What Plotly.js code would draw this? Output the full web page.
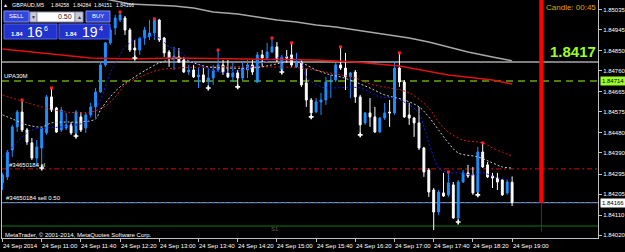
<!DOCTYPE html>
<html><head><meta charset="utf-8">
<script src="https://cdn.plot.ly/plotly-3.0.1.min.js"></script>
<style>html,body{margin:0;padding:0;background:#000;overflow:hidden}#chart{width:625px;height:252px}</style>
</head><body><div id="chart"></div>
<script>
const symbolName = "GBPAUD,M5";
const open = [1.84255,1.84282,1.84403,1.84507,1.84574,1.84493,1.84435,1.84367,1.84412,1.84480,
1.84642,1.84592,1.84493,1.84502,1.84516,1.84480,1.84552,1.84502,1.84561,1.84597,
1.84664,1.84786,1.84885,1.84952,1.84988,1.84997,1.84943,1.84862,1.84853,1.84907,
1.84912,1.84930,1.84988,1.84907,1.84844,1.84817,1.84822,1.84808,1.84754,1.84763,
1.84732,1.84741,1.84718,1.84727,1.84763,1.84786,1.84750,1.84732,1.84750,1.84727,
1.84763,1.84786,1.84709,1.84831,1.84817,1.84844,1.84867,1.84763,1.84822,1.84831,
1.84777,1.84799,1.84705,1.84628,1.84574,1.84619,1.84628,1.84709,1.84718,1.84786,
1.84772,1.84732,1.84754,1.84642,1.84525,1.84570,1.84552,1.84484,1.84547,1.84574,
1.84570,1.84772,1.84709,1.84561,1.84547,1.84525,1.84412,1.84313,1.84223,1.84124,
1.84210,1.84201,1.84246,1.84097,1.84259,1.84300,1.84291,1.84214,1.84394,1.84336,
1.84286,1.84277,1.84268,1.84210,1.84258];
const high = [1.84300,1.84403,1.84516,1.84583,1.84628,1.84502,1.84457,1.84448,1.84507,1.84651,
1.84682,1.84597,1.84597,1.84570,1.84529,1.84583,1.84574,1.84570,1.84615,1.84682,
1.84795,1.84889,1.84952,1.85011,1.85024,1.85006,1.84952,1.84898,1.84912,1.84957,
1.84988,1.84993,1.84993,1.84912,1.84853,1.84867,1.84862,1.84822,1.84786,1.84786,
1.84772,1.84772,1.84772,1.84786,1.84853,1.84808,1.84808,1.84799,1.84763,1.84799,
1.84808,1.84808,1.84844,1.84853,1.84885,1.84907,1.84889,1.84831,1.84853,1.84885,
1.84840,1.84808,1.84772,1.84637,1.84637,1.84660,1.84732,1.84741,1.84795,1.84867,
1.84840,1.84754,1.84763,1.84651,1.84574,1.84637,1.84597,1.84552,1.84615,1.84628,
1.84799,1.84840,1.84718,1.84615,1.84552,1.84597,1.84417,1.84322,1.84232,1.84223,
1.84300,1.84304,1.84259,1.84268,1.84313,1.84336,1.84327,1.84417,1.84435,1.84349,
1.84300,1.84300,1.84273,1.84268,1.84284];
const low = [1.84223,1.84268,1.84372,1.84484,1.84484,1.84426,1.84358,1.84327,1.84322,1.84471,
1.84574,1.84480,1.84484,1.84493,1.84471,1.84466,1.84484,1.84480,1.84547,1.84547,
1.84660,1.84777,1.84876,1.84921,1.84979,1.84921,1.84844,1.84817,1.84831,1.84876,
1.84898,1.84898,1.84889,1.84822,1.84777,1.84763,1.84795,1.84750,1.84741,1.84727,
1.84682,1.84705,1.84682,1.84696,1.84754,1.84741,1.84727,1.84709,1.84687,1.84718,
1.84727,1.84741,1.84705,1.84777,1.84808,1.84840,1.84799,1.84754,1.84795,1.84777,
1.84772,1.84687,1.84597,1.84552,1.84570,1.84561,1.84606,1.84637,1.84709,1.84763,
1.84673,1.84637,1.84615,1.84471,1.84516,1.84507,1.84480,1.84480,1.84538,1.84507,
1.84561,1.84687,1.84547,1.84516,1.84462,1.84403,1.84282,1.84192,1.84043,1.84111,
1.84192,1.84192,1.84093,1.84079,1.84255,1.84277,1.84201,1.84201,1.84322,1.84277,
1.84232,1.84223,1.84196,1.84201,1.84151];
const close = [1.84291,1.84394,1.84507,1.84574,1.84493,1.84439,1.84367,1.84417,1.84502,1.84642,
1.84583,1.84484,1.84583,1.84516,1.84480,1.84574,1.84493,1.84561,1.84597,1.84664,
1.84786,1.84885,1.84943,1.84997,1.85011,1.84943,1.84853,1.84853,1.84907,1.84943,
1.84930,1.84988,1.84898,1.84840,1.84817,1.84826,1.84799,1.84754,1.84763,1.84732,
1.84741,1.84709,1.84727,1.84763,1.84786,1.84754,1.84732,1.84750,1.84727,1.84772,
1.84786,1.84754,1.84831,1.84817,1.84844,1.84867,1.84808,1.84822,1.84817,1.84786,
1.84795,1.84696,1.84628,1.84570,1.84619,1.84628,1.84709,1.84718,1.84786,1.84772,
1.84732,1.84750,1.84642,1.84516,1.84570,1.84552,1.84484,1.84547,1.84570,1.84570,
1.84772,1.84709,1.84552,1.84547,1.84525,1.84412,1.84304,1.84214,1.84124,1.84214,
1.84196,1.84255,1.84097,1.84259,1.84300,1.84286,1.84210,1.84394,1.84327,1.84282,
1.84277,1.84259,1.84201,1.84259,1.84166];

const timeTickIdx = [0,8,16,24,32,40,48,56,64,72,80,88,96,104];
const timeTickText = ["24 Sep 2014","24 Sep 11:00","24 Sep 11:40","24 Sep 12:20","24 Sep 13:00","24 Sep 13:40","24 Sep 14:20","24 Sep 15:00","24 Sep 15:40","24 Sep 16:20","24 Sep 17:00","24 Sep 17:40","24 Sep 18:20","24 Sep 19:00"];
const priceTicks = [1.85035,1.84945,1.84850,1.84760,1.84665,1.84575,1.84480,1.84390,1.84295,1.84205,1.84110,1.84020];

const upFractalIdx = [4,10,24,31,44,55,59,69,81,91,98];
const downFractalIdx = [8,15,27,42,48,57,63,73,93,97];

const maFastIdx = [0,2,4,6,9,12,15,17,18,20,22,24,25,27,29,32,34,36,38,41,44,46,49,52,56,58,61,62,65,67,73,77,80,83,85,86,87,88,89,91,93,96,98,101,104];
const maFast = [1.84372,1.84417,1.84462,1.84493,1.84502,1.84507,1.84516,1.84529,1.84552,1.84628,1.84750,1.84831,1.84867,1.84898,1.84912,1.84907,1.84867,1.84853,1.84808,1.84777,1.84754,1.84754,1.84763,1.84786,1.84817,1.84822,1.84795,1.84732,1.84687,1.84682,1.84682,1.84642,1.84637,1.84606,1.84570,1.84507,1.84435,1.84372,1.84322,1.84300,1.84300,1.84291,1.84300,1.84277,1.84268];
const maMidIdx = [0,2,5,8,10,13,16,19,20,22,24,27,30,32,34,36,39,42,46,51,55,58,61,64,67,69,72,75,78,82,85,87,89,91,93,97,100,102,104];
const maMid = [1.84561,1.84543,1.84516,1.84507,1.84525,1.84529,1.84529,1.84543,1.84583,1.84642,1.84687,1.84732,1.84772,1.84795,1.84808,1.84817,1.84795,1.84777,1.84772,1.84772,1.84786,1.84799,1.84795,1.84763,1.84741,1.84732,1.84709,1.84682,1.84651,1.84628,1.84597,1.84552,1.84493,1.84435,1.84390,1.84372,1.84345,1.84327,1.84322];
const maSlowIdx = [0,8,13,18,21,23,25,29,32,36,44,53,61,68,72,75,79,83,87,89,91,94,98,100,104];
const maSlow = [1.84651,1.84597,1.84574,1.84574,1.84601,1.84642,1.84696,1.84741,1.84763,1.84772,1.84777,1.84777,1.84772,1.84745,1.84727,1.84700,1.84682,1.84660,1.84592,1.84529,1.84484,1.84448,1.84435,1.84412,1.84376];
const maRedIdx = [0,8,18,26,35,64,72,81,91,100,104];
const maRed = [1.84858,1.84840,1.84817,1.84813,1.84817,1.84808,1.84799,1.84781,1.84741,1.84718,1.84700];
const maLongIdx = [20,26,35,39,43,48,52,56,60,64,68,72,75,79,83,87,91,95,100,104];
const maLong = [1.85087,1.85060,1.85051,1.85042,1.85024,1.85015,1.85002,1.84988,1.84979,1.84966,1.84957,1.84943,1.84934,1.84921,1.84907,1.84889,1.84867,1.84844,1.84822,1.84804];

const levelGray = 1.84799;
const levelUPA = 1.84714;
const levelSL = 1.84318;
const levelOrder = 1.84166;
const levelGreen = 1.84061;
const candleTimerIdx = 110;
const candleTimerText = "Candle: 00:45";
const orderLabel = "#34650184 sell 0.50";
const slLabel = "#34650184 sl";
const upaLabel = "UPA30M";
const lots = "0.50";

const idx = open.map((_, i) => i);
const last = open.length - 1;
const bid = close[last];
const F = "Liberation Sans, Arial, sans-serif";
const PX = X => (X - 2) / 596;
const PY = Y => 1 - Y / 238;

function rect(x0, y0, x1, y1, fill, line) {
  return {type:'rect', xref:'paper', yref:'paper', x0:PX(x0), x1:PX(x1), y0:PY(y1), y1:PY(y0),
    fillcolor:fill, line:{color:line || fill, width:1}, layer:'above'};
}
function txt(X, Y, text, size, color, anchor, bold) {
  return {xref:'paper', yref:'paper', x:PX(X), y:PY(Y), text: bold ? '<b>' + text + '</b>' : text,
    xanchor:anchor || 'left', yanchor:'middle', showarrow:false, borderpad:0,
    font:{size:size, color:color, family:F}};
}
function hline(y, color, width, dash) {
  return {type:'line', xref:'paper', yref:'y', x0:0, x1:1, y0:y, y1:y, layer:'below',
    line:{color:color, width:width, dash:dash || 'solid'}};
}

const traces = [
  {type:'scatter', mode:'lines', x:maLongIdx, y:maLong, line:{color:'#A8A8A8', width:1.5}, hoverinfo:'skip'},
  {type:'scatter', mode:'lines', x:maRedIdx, y:maRed, line:{color:'#E01010', width:1.5}, hoverinfo:'skip'},
  {type:'candlestick', x:idx, open:open, high:high, low:low, close:close,
    increasing:{line:{color:'#1E90FF', width:1}, fillcolor:'#1E90FF'},
    decreasing:{line:{color:'#FFFFFF', width:1}, fillcolor:'#FFFFFF'},
    whiskerwidth:0, hoverinfo:'skip'},
  {type:'scatter', mode:'lines', x:maSlowIdx, y:maSlow, line:{color:'#D01818', width:1, dash:'2px,2px', shape:'spline'}, hoverinfo:'skip'},
  {type:'scatter', mode:'lines', x:maMidIdx, y:maMid, line:{color:'#C8C8C8', width:1, dash:'2px,2px', shape:'spline'}, hoverinfo:'skip'},
  {type:'scatter', mode:'lines', x:maFastIdx, y:maFast, line:{color:'#1818E0', width:1, dash:'2px,2px', shape:'spline'}, hoverinfo:'skip'},
  {type:'scatter', mode:'markers', x:upFractalIdx, y:upFractalIdx.map(i => high[i]),
    marker:{symbol:'square', size:3, color:'#FF2020'}, hoverinfo:'skip'},
  {type:'scatter', mode:'markers', x:downFractalIdx, y:downFractalIdx.map(i => low[i]),
    marker:{symbol:'cross', size:4, color:'#FFFFFF'}, hoverinfo:'skip'}
];

const shapes = [
  hline(levelGray, '#A8A8A8', 1.5),
  hline(levelUPA, '#4E7D0C', 2, '7px,5px'),
  hline(levelSL, '#A01010', 1.3, '5px,3px,2px,3px'),
  hline(levelOrder, '#A8A8A8', 1),
  hline(levelOrder, '#3D6FD0', 1, '3px,3px'),
  hline(levelGreen, '#0E7A0E', 1),
  {type:'rect', xref:'x', yref:'y', x0:candleTimerIdx - 0.45, x1:candleTimerIdx + 0.45, y0:bid, y1:1.85100,
    line:{width:0}, fillcolor:'#FF0000', layer:'above'},
  {type:'line', xref:'x', yref:'y', x0:candleTimerIdx, x1:candleTimerIdx, y0:bid, y1:1.84035,
    line:{color:'#B00000', width:1}, layer:'above'},
  // one-click trading panel
  rect(4, 11, 29, 22, '#3347D9', '#7C8CFF'),
  rect(30, 12, 37, 22, '#C8CAD8', '#9090A8'),
  rect(37, 12, 75, 22, '#FFFFFF', '#9090A8'),
  rect(75, 12, 83, 22, '#C8CAD8', '#9090A8'),
  rect(86, 11, 110, 22, '#3347D9', '#7C8CFF'),
  rect(4, 24, 57, 39, '#2232CC', '#5262F0'),
  rect(59, 24, 110, 39, '#2232CC', '#5262F0')
];

const annotations = [
  txt(2, 5, '▲', 5, '#FFFFFF'),
  txt(11, 5, symbolName, 5.5, '#FFFFFF'),
  txt(50, 5, open[last].toFixed(5), 5, '#FFFFFF'),
  txt(72, 5, high[last].toFixed(5), 5, '#FFFFFF'),
  txt(93, 5, low[last].toFixed(5), 5, '#FFFFFF'),
  txt(115, 5, close[last].toFixed(5), 5, '#FFFFFF'),
  txt(16.5, 16.5, 'SELL', 6, '#FFFFFF', 'center'),
  txt(33.5, 17, '▼', 5, '#303050', 'center'),
  txt(73, 17, lots, 7, '#202020', 'right'),
  txt(79, 17, '▲', 5, '#303050', 'center'),
  txt(98, 16.5, 'BUY', 6, '#FFFFFF', 'center'),
  txt(10, 34, '1.84', 6, '#FFFFFF', 'left', true),
  txt(26, 32, '16', 14, '#FFFFFF'),
  txt(43, 28.5, '6', 7, '#FFFFFF'),
  txt(64, 34, '1.84', 6, '#FFFFFF', 'left', true),
  txt(81, 32, '19', 14, '#FFFFFF'),
  txt(97.5, 28.5, '4', 7, '#FFFFFF'),
  txt(545, 7, candleTimerText, 8, '#E0A000'),
  txt(597, 51, bid.toFixed(4), 15, '#9BFF1F', 'right', true),
  txt(3, 76, upaLabel, 6, '#FFFFFF'),
  txt(8, 164.5, slLabel, 6, '#FFFFFF'),
  txt(5, 198, orderLabel, 6, '#FFFFFF'),
  txt(270, 229, 'S1', 6, '#606060'),
  txt(4, 234.5, 'MetaTrader, © 2001-2014, MetaQuotes Software Corp.', 6, '#FFFFFF'),
  {xref:'paper', yref:'y', x:PX(600), y:levelUPA, text:levelUPA.toFixed(5), xanchor:'left', yanchor:'middle',
    showarrow:false, bgcolor:'#9BFF2E', borderpad:1, font:{size:6, color:'#000000', family:F}},
  {xref:'paper', yref:'y', x:PX(600), y:bid, text:bid.toFixed(5), xanchor:'left', yanchor:'middle',
    showarrow:false, bgcolor:'#FFFFFF', borderpad:1, font:{size:6, color:'#000000', family:F}}
];
timeTickIdx.forEach((t, k) => {
  annotations.push({xref:'x', yref:'paper', x:t, y:PY(245.5), text:timeTickText[k], xanchor:'left',
    yanchor:'middle', xshift:-0.5, showarrow:false, borderpad:0, font:{size:6, color:'#FFFFFF', family:F}});
});

const layout = {
  width:625, height:252, margin:{l:2, r:27, t:0, b:14, pad:0},
  paper_bgcolor:'#000000', plot_bgcolor:'#000000', showlegend:false, hovermode:false,
  boxgap:0.45,
  xaxis:{range:[-0.1, 121.53], showgrid:false, zeroline:false, showline:true, mirror:true,
    linecolor:'#C0C0C0', linewidth:1, ticks:'outside', ticklen:3, tickcolor:'#C0C0C0',
    tickmode:'array', tickvals:timeTickIdx, showticklabels:false,
    rangeslider:{visible:false}, fixedrange:true, automargin:false},
  yaxis:{side:'right', range:[1.84007, 1.85078], showgrid:false, zeroline:false, showline:true, mirror:true,
    linecolor:'#C0C0C0', linewidth:1, ticks:'outside', ticklen:3, tickcolor:'#C0C0C0',
    tickmode:'array', tickvals:priceTicks, ticktext:priceTicks.map(v => v.toFixed(5)),
    tickfont:{size:6, color:'#FFFFFF', family:F}, fixedrange:true, automargin:false},
  shapes:shapes, annotations:annotations
};

Plotly.newPlot('chart', traces, layout, {staticPlot:true, displayModeBar:false});
</script>
</body></html>
